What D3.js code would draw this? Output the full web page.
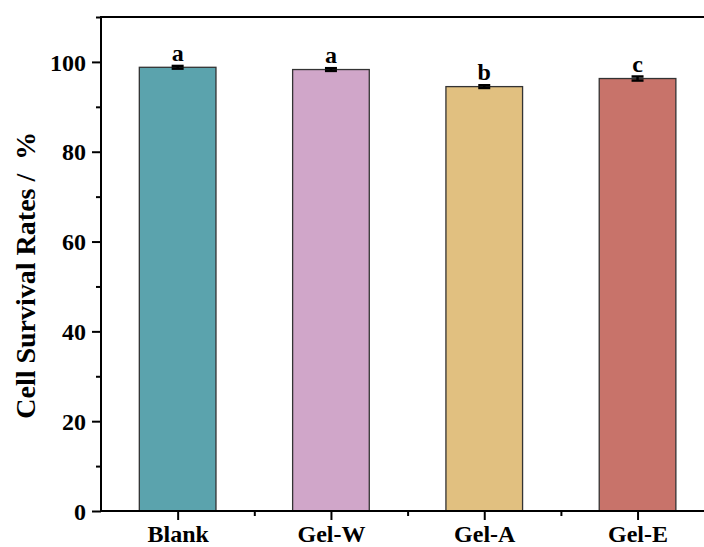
<!DOCTYPE html>
<html>
<head>
<meta charset="utf-8">
<script src="https://cdn.jsdelivr.net/npm/d3@7"></script>
<style>
  body { margin: 0; background: #fff; }
  svg text { font-family: "Liberation Serif", "Times New Roman", serif; font-weight: bold; }
</style>
</head>
<body>
<svg id="chart" width="704" height="547"></svg>
<script>
var groups = ["Blank", "Gel-W", "Gel-A", "Gel-E"];
var means = [98.8, 98.3, 94.5, 96.3];
var errs = [0.3, 0.3, 0.3, 0.45];
var letters = ["a", "a", "b", "c"];
var colors = ["#5ba3ad", "#d0a6c9", "#e1c080", "#c8736a"];
var yTicks = [0, 20, 40, 60, 80, 100];

var svg = d3.select("#chart");
var plotLeft = 101, plotTop = 17, plotBottom = 511;
var step = 153.3;
var plotRight = plotLeft + step * groups.length;

// band positions like origin: category i centred at i+1, axis 0.5..4.5
var x = d3.scaleLinear().domain([0.5, groups.length + 0.5]).range([plotLeft, plotRight]);
var y = d3.scaleLinear().domain([0, 110]).range([plotBottom, plotTop]);
var barW = step * 0.5;

var bars = svg.append("g");
bars.selectAll("rect")
  .data(means)
  .enter().append("rect")
  .attr("x", function(d, i) { return x(i + 1) - barW / 2; })
  .attr("y", function(d) { return y(d); })
  .attr("width", barW)
  .attr("height", function(d) { return y(0) - y(d); })
  .attr("fill", function(d, i) { return colors[i]; })
  .attr("stroke", "#333")
  .attr("stroke-width", 1.3);

// error bars
var eb = svg.append("g").attr("stroke", "#000").attr("stroke-width", 2.5);
means.forEach(function(m, i) {
  var cx = x(i + 1);
  eb.append("line").attr("x1", cx).attr("x2", cx).attr("y1", y(m - errs[i])).attr("y2", y(m + errs[i]));
  [m - errs[i], m + errs[i]].forEach(function(v) {
    eb.append("line").attr("x1", cx - 6).attr("x2", cx + 6).attr("y1", y(v)).attr("y2", y(v));
  });
});

// significance letters
svg.append("g").selectAll("text")
  .data(letters)
  .enter().append("text")
  .attr("x", function(d, i) { return x(i + 1); })
  .attr("y", function(d, i) { return y(means[i] + errs[i]) - 5; })
  .attr("text-anchor", "middle")
  .attr("font-size", 24)
  .text(function(d) { return d; });

// y axis
var yAxis = d3.axisLeft(y).tickValues(yTicks).tickSize(9).tickPadding(6).tickSizeOuter(0);
var gy = svg.append("g").attr("transform", "translate(" + plotLeft + ",0)").call(yAxis);
gy.select(".domain").attr("stroke", "#000").attr("stroke-width", 2).attr("d", "M0," + (plotBottom + 1) + "V" + plotTop);
gy.selectAll(".tick line").attr("stroke-width", 2);
gy.selectAll(".tick text").attr("font-size", 24).attr("fill", "#000").attr("font-family", "Liberation Serif").attr("dy", "0.34em");

var yMinor = d3.axisLeft(y).tickValues([10, 30, 50, 70, 90, 110]).tickSize(5).tickFormat("");
var gym = svg.append("g").attr("transform", "translate(" + plotLeft + ",0)").call(yMinor);
gym.select(".domain").remove();
gym.selectAll(".tick line").attr("stroke-width", 2);

// x axis
var xAxis = d3.axisBottom(x).tickValues([1, 2, 3, 4]).tickSize(9).tickPadding(5).tickSizeOuter(0)
  .tickFormat(function(d) { return groups[d - 1]; });
var gx = svg.append("g").attr("transform", "translate(0," + plotBottom + ")").call(xAxis);
gx.select(".domain").attr("stroke-width", 2).attr("d", "M" + (plotLeft - 1) + ",0H" + plotRight);
gx.selectAll(".tick line").attr("stroke-width", 2);
gx.selectAll(".tick text").attr("font-size", 24).attr("fill", "#000").attr("font-family", "Liberation Serif");

var xMinor = d3.axisBottom(x).tickValues([1.5, 2.5, 3.5]).tickSize(5).tickFormat("");
var gxm = svg.append("g").attr("transform", "translate(0," + plotBottom + ")").call(xMinor);
gxm.select(".domain").remove();
gxm.selectAll(".tick line").attr("stroke-width", 2);

// top frame line
svg.append("line")
  .attr("x1", plotLeft - 1).attr("x2", plotRight)
  .attr("y1", y(110)).attr("y2", y(110))
  .attr("stroke", "#000").attr("stroke-width", 2);

// y title
svg.append("text")
  .attr("transform", "translate(35," + y(52.5) + ") rotate(-90)")
  .attr("text-anchor", "middle")
  .attr("font-size", 28)
  .attr("xml:space", "preserve")
  .text("Cell Survival Rates /  %");
</script>
</body>
</html>
